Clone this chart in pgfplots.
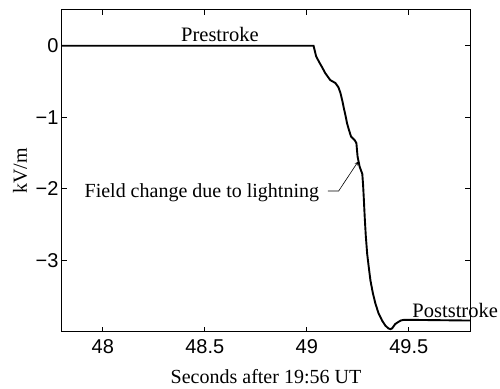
\documentclass[border=0pt]{standalone}
\usepackage{fontspec}
\setmainfont{Liberation Serif}
\newfontfamily\tickfont{Liberation Sans}
\usepackage{pgfplots}
\pgfplotsset{compat=1.18}
\begin{document}
\begin{tikzpicture}
\begin{axis}[
  scale only axis,
  width=408pt, height=322pt,
  xmin=47.8, xmax=49.8, ymin=-4, ymax=0.5,
  xtick={48,48.5,49,49.5}, xticklabels={48,48.5,49,49.5},
  ytick={-3,-2,-1,0}, yticklabels={−3,−2,−1,0},
  tick align=inside, major tick length=5pt,
  tick style={black, line width=0.8pt},
  axis line style={line width=1pt},
  ticklabel style={font=\tickfont\fontsize{20}{20}\selectfont},
  xticklabel style={yshift=-4pt},
  xlabel={Seconds after 19:56 UT},
  ylabel={kV/m},
  label style={font=\fontsize{20}{20}\selectfont},
  xlabel style={at={(axis description cs:0.5,0)}, anchor=base, yshift=-52pt},
  ylabel style={at={(axis description cs:-0.0858,0.5)}, anchor=base},
  clip=false,
]
\addplot[black, line width=1.9pt] coordinates {
(47.8,0) (49.033,0) (49.040,-0.08) (49.046,-0.15) (49.063,-0.24) (49.075,-0.30)
(49.09,-0.38) (49.105,-0.44) (49.115,-0.48) (49.14,-0.52) (49.155,-0.58)
(49.165,-0.66) (49.175,-0.78) (49.18,-0.85) (49.19,-0.98) (49.197,-1.08)
(49.207,-1.18) (49.217,-1.27) (49.235,-1.32) (49.243,-1.36) (49.249,-1.55)
(49.259,-1.69) (49.272,-1.79) (49.276,-1.95) (49.279,-2.11) (49.284,-2.40)
(49.289,-2.65) (49.296,-2.91) (49.304,-3.10) (49.312,-3.28) (49.324,-3.46)
(49.337,-3.61) (49.352,-3.74) (49.369,-3.84) (49.385,-3.91) (49.40,-3.95)
(49.41,-3.96) (49.418,-3.95) (49.423,-3.93) (49.433,-3.89) (49.443,-3.87)
(49.46,-3.84) (49.476,-3.83) (49.5,-3.83) (49.8,-3.84)
};
\node[anchor=base, font=\fontsize{20.5}{20.5}\selectfont] at (axis cs:48.574,0.06) {Prestroke};
\node[anchor=base west, font=\fontsize{20}{20}\selectfont, inner sep=0pt] at (axis cs:47.91,-2.12) {Field change due to lightning};
\node[anchor=base west, font=\fontsize{20.5}{20.5}\selectfont, inner sep=0pt] at (axis cs:49.517,-3.80) {Poststroke};
\draw[line width=0.6pt, -stealth] (axis cs:49.103,-2.03) -- (axis cs:49.156,-2.03) -- (axis cs:49.251,-1.62);
\end{axis}
\pgfresetboundingbox
\path ([xshift=-62pt,yshift=-57pt]current axis.south west) rectangle ([xshift=30pt,yshift=10pt]current axis.north east);
\end{tikzpicture}
\end{document}
